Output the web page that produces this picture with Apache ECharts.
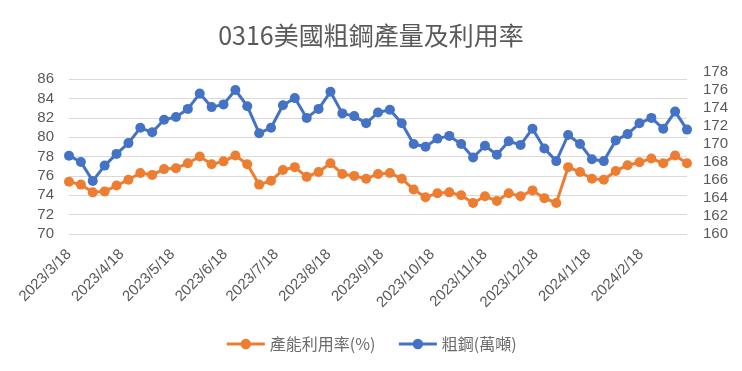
<!DOCTYPE html>
<html>
<head>
<meta charset="utf-8">
<script src="https://cdn.jsdelivr.net/npm/echarts@6/dist/echarts.min.js"></script>
<style>
html,body{margin:0;padding:0;background:#fff;}
#chart{width:742px;height:371px;}
</style>
</head>
<body>
<div id="chart"></div>
<script>
const titleText = '0316美國粗鋼產量及利用率';
const seriesNames = ['產能利用率(%)', '粗鋼(萬噸)'];
const weekDates = [
  '2023-03-18','2023-03-25','2023-04-01','2023-04-08','2023-04-15','2023-04-22','2023-04-29',
  '2023-05-06','2023-05-13','2023-05-20','2023-05-27','2023-06-03','2023-06-10','2023-06-17',
  '2023-06-24','2023-07-01','2023-07-08','2023-07-15','2023-07-22','2023-07-29','2023-08-05',
  '2023-08-12','2023-08-19','2023-08-26','2023-09-02','2023-09-09','2023-09-16','2023-09-23',
  '2023-09-30','2023-10-07','2023-10-14','2023-10-21','2023-10-28','2023-11-04','2023-11-11',
  '2023-11-18','2023-11-25','2023-12-02','2023-12-09','2023-12-16','2023-12-23','2023-12-30',
  '2024-01-06','2024-01-13','2024-01-20','2024-01-27','2024-02-03','2024-02-10','2024-02-17',
  '2024-02-24','2024-03-02','2024-03-09','2024-03-16'
];
const utilization = [
  75.4,75.1,74.3,74.4,75.0,75.6,76.3,76.1,76.7,76.8,77.3,78.0,77.2,
  77.5,78.1,77.2,75.1,75.5,76.6,76.9,75.9,76.4,77.3,76.2,76.0,75.7,
  76.2,76.3,75.7,74.6,73.8,74.2,74.3,74.0,73.2,73.9,73.4,74.2,73.9,
  74.5,73.7,73.2,76.9,76.4,75.7,75.6,76.5,77.1,77.4,77.8,77.3,78.1,77.3
];
const crudeSteel = [
  168.7,168.0,165.9,167.6,168.9,170.1,171.8,171.3,172.7,173.0,173.9,175.6,174.1,
  174.4,176.0,174.2,171.2,171.8,174.3,175.1,172.9,173.9,175.8,173.4,173.1,172.3,
  173.5,173.8,172.3,170.0,169.7,170.6,170.9,170.0,168.5,169.8,168.8,170.3,169.9,
  171.7,169.5,168.1,171.0,170.0,168.3,168.1,170.4,171.1,172.3,172.9,171.7,173.6,171.6
];
const xTickLabels = ['2023/3/18','2023/4/18','2023/5/18','2023/6/18','2023/7/18','2023/8/18',
  '2023/9/18','2023/10/18','2023/11/18','2023/12/18','2024/1/18','2024/2/18'];
const leftTicks = {min: 70, max: 86, interval: 2};
const rightTicks = {min: 160, max: 178, interval: 2};

// convert dates to day numbers (days since epoch, UTC)
function toDay(s) {
  const p = s.split(/[-\/]/).map(Number);
  return Math.round(Date.UTC(p[0], p[1] - 1, p[2]) / 86400000);
}
const days = weekDates.map(toDay);
const tickDays = xTickLabels.map(toDay);
const labelMap = {};
tickDays.forEach((t, i) => { labelMap[t] = xTickLabels[i]; });

const grey = '#595959';
const font = '"Noto Sans CJK TC", "Noto Sans", sans-serif';
const numFont = '"Liberation Sans", "Noto Sans", sans-serif';
const orange = '#ED7D31';
const blue = '#4472C4';

const chart = echarts.init(document.getElementById('chart'), null, {renderer: 'canvas'});
chart.setOption({
  animation: false,
  backgroundColor: '#fff',
  title: {
    text: titleText, left: 'center', top: 18,
    textStyle: {fontFamily: font, fontSize: 25, fontWeight: 'normal', color: grey}
  },
  legend: {
    top: 331, left: 'center',
    itemWidth: 38, itemHeight: 13, itemGap: 22,
    data: seriesNames,
    lineStyle: {width: 3},
    textStyle: {fontFamily: font, fontSize: 16, color: '#6b6b6b'}
  },
  grid: [
    {left: 69, right: 55, top: 79, bottom: 137},
    {left: 69, right: 55, top: 72, bottom: 137}
  ],
  xAxis: [
    {
      type: 'value', gridIndex: 0,
      min: days[0], max: days[days.length - 1],
      axisLine: {show: false}, axisTick: {show: false},
      splitLine: {show: false},
      axisLabel: {
        customValues: tickDays,
        rotate: 45, margin: 18,
        fontFamily: numFont, fontSize: 15, color: grey,
        formatter: (v) => labelMap[Math.round(v)] || ''
      }
    },
    {
      type: 'value', gridIndex: 1, show: false,
      min: days[0], max: days[days.length - 1]
    }
  ],
  yAxis: [
    {
      type: 'value', gridIndex: 0, position: 'left',
      min: leftTicks.min, max: leftTicks.max, interval: leftTicks.interval,
      axisLine: {show: false}, axisTick: {show: false},
      splitLine: {lineStyle: {color: '#D9D9D9', width: 1}},
      axisLabel: {margin: 15, fontFamily: numFont, fontSize: 15, color: grey}
    },
    {
      type: 'value', gridIndex: 1, position: 'right',
      min: rightTicks.min, max: rightTicks.max, interval: rightTicks.interval,
      axisLine: {show: false}, axisTick: {show: false},
      splitLine: {show: false},
      axisLabel: {margin: 16, fontFamily: numFont, fontSize: 15, color: grey}
    }
  ],
  series: [
    {
      name: seriesNames[0], type: 'line',
      xAxisIndex: 0, yAxisIndex: 0,
      data: days.map((t, i) => [t, utilization[i]]),
      symbol: 'circle', symbolSize: 10,
      itemStyle: {color: orange},
      lineStyle: {color: orange, width: 3}
    },
    {
      name: seriesNames[1], type: 'line',
      xAxisIndex: 1, yAxisIndex: 1,
      data: days.map((t, i) => [t, crudeSteel[i]]),
      symbol: 'circle', symbolSize: 10,
      itemStyle: {color: blue},
      lineStyle: {color: blue, width: 3}
    }
  ]
});
</script>
</body>
</html>
